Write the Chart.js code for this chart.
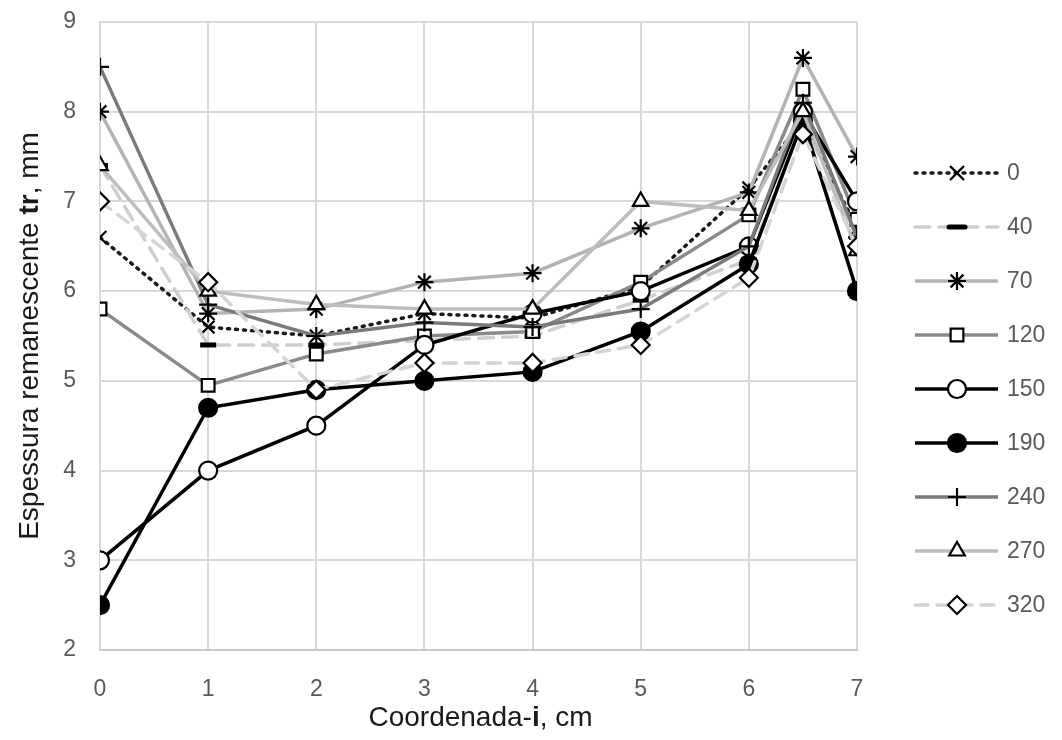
<!DOCTYPE html>
<html>
<head>
<meta charset="utf-8">
<script src="https://cdn.jsdelivr.net/npm/chart.js@4.4.0/dist/chart.umd.min.js"></script>
<style>
  html, body { margin: 0; padding: 0; background: #fff; }
</style>
</head>
<body>
<canvas id="chart" width="1062" height="740"></canvas>
<script>
// x positions (cm) and y ticks (mm)
var xCoords = [0, 1, 2, 3, 4, 5, 6, 6.5, 7];
var yTicks = [2, 3, 4, 5, 6, 7, 8, 9];
var seriesNames = ["0", "40", "70", "120", "150", "190", "240", "270", "320"];

var s0   = [6.6, 5.6, 5.5, 5.75, 5.7, 6.05, 7.15, 7.9, 6.7];
var s40  = [7.4, 5.4, 5.4, 5.45, 5.5, 5.9, 6.35, 7.9, 6.6];
var s70  = [8.0, 5.75, 5.8, 6.1, 6.2, 6.7, 7.1, 8.6, 7.5];
var s120 = [5.8, 4.95, 5.3, 5.5, 5.55, 6.1, 6.85, 8.25, 6.8];
var s150 = [3.0, 4.0, 4.5, 5.4, 5.75, 6.0, 6.5, 8.0, 7.0];
var s190 = [2.5, 4.7, 4.9, 5.0, 5.1, 5.55, 6.3, 7.9, 6.0];
var s240 = [8.5, 5.85, 5.5, 5.65, 5.6, 5.8, 6.5, 8.1, 6.6];
var s270 = [7.4, 6.0, 5.85, 5.8, 5.8, 7.0, 6.9, 8.0, 6.45];
var s320 = [7.0, 6.1, 4.9, 5.2, 5.2, 5.4, 6.15, 7.75, 6.5];

var allSeries = [s0, s40, s70, s120, s150, s190, s240, s270, s320];

var FONT = "'Liberation Sans', Arial, sans-serif";

// line / marker look per series
var looks = [
  { color: "#1a1a1a", width: 3.5, dash: [2, 6], marker: "crossRot", fill: "#fff", radius: 9, mw: 2.2 },
  { color: "#cfcfcf", width: 3.5, dash: [15, 9], marker: "line", fill: "#000", radius: 8, mw: 5 },
  { color: "#b3b3b3", width: 3.5, dash: [], marker: "star", fill: "#fff", radius: 9, mw: 2.2 },
  { color: "#8a8a8a", width: 3.5, dash: [], marker: "rect", fill: "#fff", radius: 9, mw: 2.2 },
  { color: "#000000", width: 3.5, dash: [], marker: "circle", fill: "#fff", radius: 9, mw: 2.2 },
  { color: "#000000", width: 3.5, dash: [], marker: "circle", fill: "#000", radius: 9, mw: 2.2 },
  { color: "#7a7a7a", width: 3.5, dash: [], marker: "cross", fill: "#fff", radius: 9, mw: 2.2 },
  { color: "#bdbdbd", width: 3.5, dash: [], marker: "triangle", fill: "#fff", radius: 9, mw: 2.2 },
  { color: "#d4d4d4", width: 3.5, dash: [13, 9], marker: "rectRot", fill: "#fff", radius: 9, mw: 2.2 }
];

var datasets = allSeries.map(function(vals, i) {
  var lk = looks[i];
  return {
    label: seriesNames[i],
    data: vals.map(function(v, j) { return { x: xCoords[j], y: v }; }),
    borderColor: lk.color,
    borderWidth: lk.width,
    borderDash: lk.dash,
    borderCapStyle: lk.dash.length ? "round" : "butt",
    pointStyle: lk.marker,
    pointRadius: lk.radius,
    pointBorderWidth: lk.mw,
    pointBorderColor: "#000",
    pointBackgroundColor: lk.fill,
    tension: 0,
    order: allSeries.length - i
  };
});

function drawMixed(ctx, parts, cx, cy, size) {
  var total = 0;
  parts.forEach(function(p) {
    ctx.font = (p[1] ? "bold " : "") + size + "px " + FONT;
    p.w = ctx.measureText(p[0]).width;
    total += p.w;
  });
  var x = cx - total / 2;
  ctx.textBaseline = "middle";
  ctx.textAlign = "left";
  parts.forEach(function(p) {
    ctx.font = (p[1] ? "bold " : "") + size + "px " + FONT;
    ctx.fillText(p[0], x, cy);
    x += p.w;
  });
}

var extras = {
  id: "extras",
  afterDraw: function(chart) {
    var ctx = chart.ctx;
    var area = chart.chartArea;
    ctx.save();
    ctx.fillStyle = "#1a1a1a";
    drawMixed(ctx, [["Coordenada-", false], ["i", true], [", cm", false]], (area.left + area.right) / 2 + 2, 718, 28);
    ctx.translate(30, (area.top + area.bottom) / 2);
    ctx.rotate(-Math.PI / 2);
    drawMixed(ctx, [["Espessura remanescente ", false], ["tr", true], [", mm", false]], 0, 0, 28);
    ctx.restore();

    // legend
    datasets.forEach(function(ds, i) {
      var y = 173 + i * 54;
      ctx.save();
      ctx.strokeStyle = ds.borderColor;
      ctx.lineWidth = ds.borderWidth;
      ctx.lineCap = ds.borderCapStyle;
      ctx.setLineDash(ds.borderDash);
      ctx.beginPath();
      ctx.moveTo(915, y);
      ctx.lineTo(998, y);
      ctx.stroke();
      ctx.setLineDash([]);
      ctx.fillStyle = ds.pointBackgroundColor;
      ctx.strokeStyle = ds.pointBorderColor;
      ctx.lineWidth = ds.pointBorderWidth;
      Chart.helpers.drawPoint(ctx, { pointStyle: ds.pointStyle, radius: ds.pointRadius, borderWidth: ds.pointBorderWidth, rotation: 0 }, 957, y);
      ctx.fillStyle = "#595959";
      ctx.font = "23px " + FONT;
      ctx.textBaseline = "middle";
      ctx.textAlign = "left";
      ctx.fillText(ds.label, 1007, y + 1);
      ctx.restore();
    });
  }
};

new Chart(document.getElementById("chart").getContext("2d"), {
  type: "line",
  data: { datasets: datasets },
  plugins: [extras],
  options: {
    responsive: false,
    animation: false,
    layout: { padding: { left: 40, right: 205, top: 22, bottom: 0 } },
    plugins: { legend: { display: false }, tooltip: { enabled: false } },
    scales: {
      x: {
        type: "linear",
        min: 0,
        max: 7,
        afterBuildTicks: function(s) { s.ticks = [0, 1, 2, 3, 4, 5, 6, 7].map(function(v) { return { value: v }; }); },
        afterFit: function(s) { s.height = 90; s.paddingLeft = 0; s.paddingRight = 0; },
        grid: { color: "#d9d9d9", lineWidth: 2, drawTicks: false },
        border: { color: "#c8c8c8", width: 2 },
        ticks: { color: "#595959", font: { size: 23, family: FONT }, padding: 26 }
      },
      y: {
        min: 2,
        max: 9,
        afterBuildTicks: function(s) { s.ticks = yTicks.map(function(v) { return { value: v }; }); },
        afterFit: function(s) { s.width = 60; s.paddingTop = 0; s.paddingBottom = 0; },
        grid: { color: "#d9d9d9", lineWidth: 2, drawTicks: false },
        border: { color: "#d9d9d9", width: 2 },
        ticks: { color: "#595959", font: { size: 23, family: FONT }, padding: 24 }
      }
    }
  }
});
</script>
</body>
</html>
